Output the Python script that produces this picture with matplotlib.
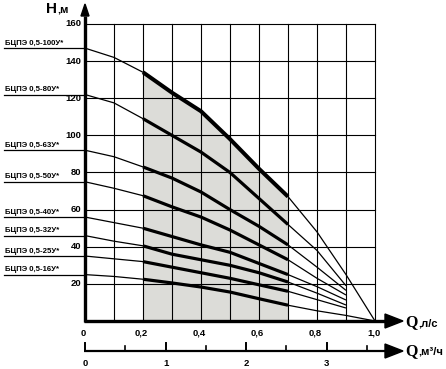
import matplotlib
matplotlib.use("Agg")
import matplotlib.pyplot as plt
from matplotlib.patches import Polygon

# ---------------- data ----------------
q_full = [0.0, 0.1, 0.2, 0.3, 0.4, 0.5, 0.6, 0.7, 0.8, 0.9, 1.0]
q_short = [0.0, 0.1, 0.2, 0.3, 0.4, 0.5, 0.6, 0.7, 0.8, 0.9]

h_100 = [147, 142, 134, 123, 113, 98, 82, 67, 48, 25, 0]
h_80 = [122, 117.5, 109, 100, 91, 80, 66, 52, 38, 19]
h_63 = [92, 88.5, 83, 77, 69.5, 60, 51, 41, 29, 16.5]
h_50 = [75, 71.5, 67.5, 61.5, 56, 49, 41, 33, 23, 14]
h_40 = [56, 53, 50, 45.5, 41, 37, 31, 25, 18.5, 11.3]
h_32 = [46, 43, 40.5, 36, 33, 30, 26, 21, 15, 8.6]
h_25 = [35, 33.5, 32, 29, 26, 23, 19.5, 16, 11.5, 7]
h_16 = [25, 24, 22.5, 20.5, 18.3, 15.6, 12, 8.5, 5.5, 3, 0]

labels = ["БЦПЭ 0,5-100У*", "БЦПЭ 0,5-80У*", "БЦПЭ 0,5-63У*", "БЦПЭ 0,5-50У*",
          "БЦПЭ 0,5-40У*", "БЦПЭ 0,5-32У*", "БЦПЭ 0,5-25У*", "БЦПЭ 0,5-16У*"]
series = [(q_full, h_100), (q_short, h_80), (q_short, h_63), (q_short, h_50),
          (q_short, h_40), (q_short, h_32), (q_short, h_25), (q_full, h_16)]

y_ticks = [20, 40, 60, 80, 100, 120, 140, 160]
x_ticks = [0, 0.2, 0.4, 0.6, 0.8, 1.0]
x_tick_labels = ["0", "0,2", "0,4", "0,6", "0,8", "1,0"]
m3h_major = [0, 1, 2, 3]
m3h_minor = [0.5, 1.5, 2.5, 3.5]
work_lo, work_hi = 0.2, 0.7

# ---------------- layout ----------------
W, H = 446, 369
fig = plt.figure(figsize=(W / 100, H / 100), dpi=100)
x0p, x1p = 85, 375      # pixel x of Q=0 and Q=1
y0p, y160p = 321, 24    # pixel y of H=0 and H=160
ax = fig.add_axes([x0p / W, (H - y0p) / H, (x1p - x0p) / W, (y0p - y160p) / H])
ax.set_xlim(0, 1.0)
ax.set_ylim(0, 160)
ax.axis("off")


def X(px):
    return (px - x0p) / (x1p - x0p)


def Y(py):
    return (y0p - py) / (y0p - y160p) * 160


SANS = "Liberation Sans"
SERIF = "Liberation Serif"

# shaded working zone
qz = [q for q in q_full if work_lo - 1e-9 <= q <= work_hi + 1e-9]
hz = [h for q, h in zip(q_full, h_100) if work_lo - 1e-9 <= q <= work_hi + 1e-9]
ax.fill_between(qz, 0, hz, color="#dcdcd8", lw=0, zorder=1)

# grid
for i in range(0, 11):
    ax.plot([i / 10, i / 10], [0, 160], color="black", lw=0.8, zorder=2, clip_on=False)
for yv in y_ticks:
    ax.plot([0, 1.0], [yv, yv], color="black", lw=0.8, zorder=2, clip_on=False)

# curves
for idx, ((qs, hs), lab) in enumerate(zip(series, labels)):
    ax.plot(qs, hs, color="black", lw=0.9, zorder=4, clip_on=False, solid_capstyle="butt")
    qw = [q for q in qs if work_lo - 1e-9 <= q <= work_hi + 1e-9]
    hw = [h for q, h in zip(qs, hs) if work_lo - 1e-9 <= q <= work_hi + 1e-9]
    ax.plot(qw, hw, color="black", lw=2.9 if idx == 0 else 2.3, zorder=5,
            solid_capstyle="butt", clip_on=False)
    # label with underline to the axis
    ax.plot([X(4), 0], [hs[0], hs[0]], color="black", lw=0.9, clip_on=False, zorder=4)
    ax.text(X(5), hs[0] + Y(y0p - 1.5), lab, ha="left", va="bottom", fontsize=5.6,
            fontweight="bold", family=SANS, clip_on=False)

# y axis with arrow
ax.plot([0, 0], [Y(y0p + 1), Y(16)], color="black", lw=2.4, clip_on=False, zorder=6,
        solid_capstyle="butt")
ax.add_patch(Polygon([[X(81), Y(16)], [X(89), Y(16)], [X(85), Y(4)]], closed=True,
                     color="black", clip_on=False, zorder=6))
for yv in y_ticks:
    ax.text(X(81), yv, str(yv), ha="right", va="center", fontsize=6.8, fontweight="bold",
            family=SANS, clip_on=False)
ax.text(X(46), Y(9), "Н", ha="left", va="center", fontsize=11, fontweight="bold",
        family=SANS, clip_on=False)
ax.text(X(57), Y(10), ",м", ha="left", va="center", fontsize=8, fontweight="bold",
        family=SANS, clip_on=False)

# x axis with arrow
ax.plot([X(x0p - 1), X(386)], [0, 0], color="black", lw=2.4, clip_on=False, zorder=6,
        solid_capstyle="butt")
ax.add_patch(Polygon([[X(385), Y(314)], [X(385), Y(328)], [X(403), Y(321)]], closed=True,
                     color="black", clip_on=False, zorder=6))
for xv, xl in zip(x_ticks, x_tick_labels):
    ax.text(xv - 0.005, Y(333), xl, ha="center", va="center", fontsize=6.8,
            fontweight="bold", family=SANS, clip_on=False)
ax.text(X(405), Y(322), "Q", ha="left", va="center", fontsize=11.5, fontweight="bold",
        family=SERIF, clip_on=False)
ax.text(X(418), Y(323), ",л/с", ha="left", va="center", fontsize=8, fontweight="bold",
        family=SANS, clip_on=False)

# second (m3/h) axis
ya = Y(351)
ax.plot([X(x0p - 1), X(388)], [ya, ya], color="black", lw=1.6, clip_on=False, zorder=6,
        solid_capstyle="butt")
ax.add_patch(Polygon([[X(385), Y(344)], [X(385), Y(358)], [X(403), Y(351)]], closed=True,
                     color="black", clip_on=False, zorder=6))
for m in m3h_major:
    qv = m / 3.6
    ax.plot([qv, qv], [ya, Y(343)], color="black", lw=1.4, clip_on=False)
    ax.text(qv, Y(363), str(m), ha="center", va="center", fontsize=6.8,
            fontweight="bold", family=SANS, clip_on=False)
for m in m3h_minor:
    qv = m / 3.6
    ax.plot([qv, qv], [ya, Y(346)], color="black", lw=1.2, clip_on=False)
ax.text(X(405), Y(351), "Q", ha="left", va="center", fontsize=11.5, fontweight="bold",
        family=SERIF, clip_on=False)
ax.text(X(418), Y(352), ",м³/ч", ha="left", va="center", fontsize=8, fontweight="bold",
        family=SANS, clip_on=False)

fig.savefig("out.png", dpi=100)
